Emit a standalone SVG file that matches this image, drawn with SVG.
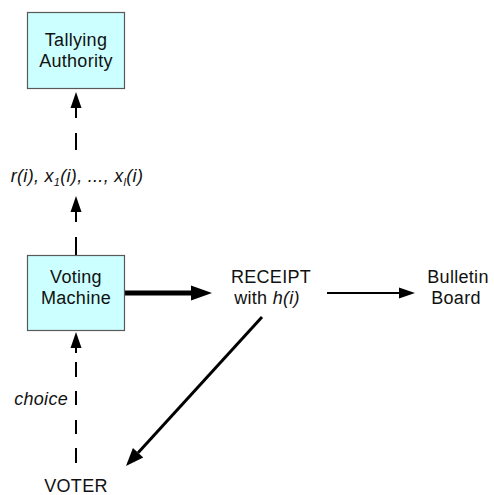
<svg xmlns="http://www.w3.org/2000/svg" width="494" height="495" viewBox="0 0 494 495">
  <style>
    .box { fill: #ccffff; stroke: #595959; stroke-width: 1.2; }
    .lbl { font-family: "Liberation Sans", Arial, sans-serif; font-size: 18px; letter-spacing: 0.3px; fill: #111; text-anchor: middle; }
    .it { font-style: italic; }
    .edge { fill: none; stroke: #000; }
    .head { fill: #000; }
  </style>
  <defs>
    <marker id="ah-s" markerUnits="userSpaceOnUse" markerWidth="16" markerHeight="11" refX="0" refY="5.5" orient="auto" overflow="visible">
      <path class="head" d="M0,0 L16,5.5 L0,11 z"/>
    </marker>
    <marker id="ah-l" markerUnits="userSpaceOnUse" markerWidth="21" markerHeight="15" refX="0" refY="7.5" orient="auto" overflow="visible">
      <path class="head" d="M0,0 L21,7.5 L0,15 z"/>
    </marker>
    <marker id="ah-d" markerUnits="userSpaceOnUse" markerWidth="18" markerHeight="14" refX="0" refY="7" orient="auto" overflow="visible">
      <path class="head" d="M0,0 L18,7 L0,14 z"/>
    </marker>
  </defs>

  <g id="connectors">
    <!-- voting machine up to the share label (dashed) -->
    <path class="edge" stroke-width="2" d="M76 255 V237 M76 222 V212" marker-end="url(#ah-s)"/>
    <!-- share label up to tallying authority (dashed) -->
    <path class="edge" stroke-width="2" d="M76 150 V133 M76 118 V108" marker-end="url(#ah-s)"/>
    <!-- voter choice up to voting machine (dashed) -->
    <path class="edge" stroke-width="2" d="M76 463 V448 M76 434 V420 M76 405 V391 M76 377 V362 M76 353 V348" marker-end="url(#ah-s)"/>
    <!-- voting machine to receipt (bold) -->
    <path class="edge" stroke-width="5" d="M125 293 H191" marker-end="url(#ah-l)"/>
    <!-- receipt to bulletin board -->
    <path class="edge" stroke-width="2" d="M327 293 H399" marker-end="url(#ah-s)"/>
    <!-- receipt back to voter -->
    <path class="edge" stroke-width="3" d="M262 317 L138.1 452.7" marker-end="url(#ah-d)"/>
  </g>

  <g id="tallying-authority">
    <rect class="box" x="27.5" y="12.5" width="97" height="76"/>
    <text class="lbl" x="76" y="46">Tallying</text>
    <text class="lbl" x="76" y="67">Authority</text>
  </g>

  <g id="share-label">
    <text class="lbl it" x="77" y="182">r(i), x<tspan font-size="11" dy="4">1</tspan><tspan dy="-4">(i), ..., x</tspan><tspan font-size="11" dy="4">l</tspan><tspan dy="-4">(i)</tspan></text>
  </g>

  <g id="voting-machine">
    <rect class="box" x="27.5" y="255.5" width="97" height="75"/>
    <text class="lbl" x="76" y="283">Voting</text>
    <text class="lbl" x="76" y="304">Machine</text>
  </g>

  <g id="receipt">
    <text class="lbl" x="271" y="283">RECEIPT</text>
    <text class="lbl" x="267" y="304">with <tspan class="it">h(i)</tspan></text>
  </g>

  <g id="bulletin-board">
    <text class="lbl" x="458" y="283">Bulletin</text>
    <text class="lbl" x="456" y="304">Board</text>
  </g>

  <g id="choice-label">
    <text class="lbl it" x="68" y="405" style="text-anchor:end">choice</text>
  </g>

  <g id="voter">
    <text class="lbl" x="76" y="492">VOTER</text>
  </g>
</svg>
